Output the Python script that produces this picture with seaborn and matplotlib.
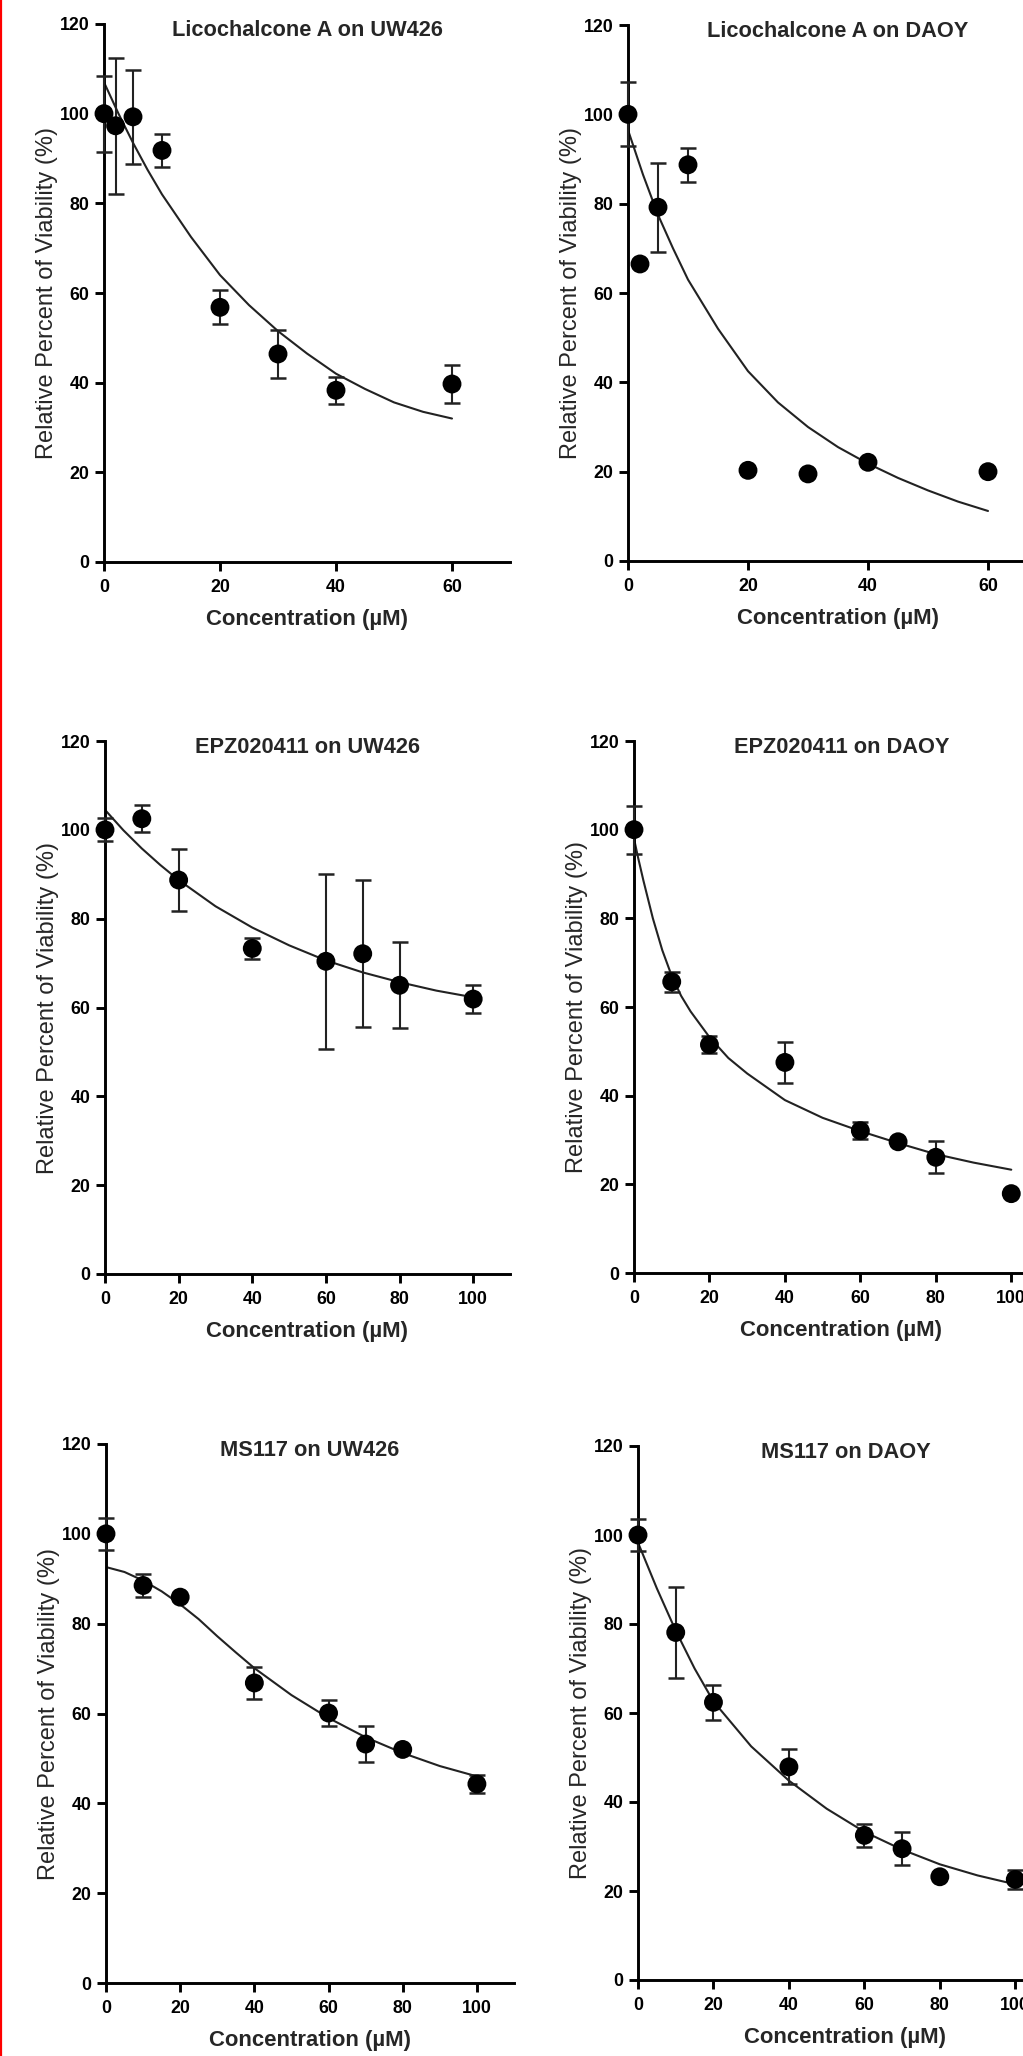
import numpy as np
import pandas as pd
import matplotlib
matplotlib.use("Agg")
import matplotlib.pyplot as plt
from matplotlib.lines import Line2D
import seaborn as sns


# Licochalcone A on UW426
lico_uw_conc = [0, 2, 5, 10, 20, 30, 40, 60]
lico_uw_mean = [100, 97.3, 99.3, 91.8, 56.8, 46.4, 38.3, 39.7]
lico_uw_err = [8.5, 15.2, 10.5, 3.7, 3.8, 5.4, 3.0, 4.3]
lico_uw_fit_x = [0, 2.5, 5, 7.5, 10, 15, 20, 25, 30, 35, 40, 45, 50, 55, 60]
lico_uw_fit_y = [107, 100, 93.5, 87.5, 82, 72.5, 64, 57.3, 51.5, 46.5, 42, 38.6, 35.6, 33.5, 32]

# Licochalcone A on DAOY
lico_da_conc = [0, 2, 5, 10, 20, 30, 40, 60]
lico_da_mean = [100, 66.5, 79.2, 88.7, 20.3, 19.5, 22.1, 20.0]
lico_da_err = [7.2, 0, 10.0, 3.8, 0, 0, 0, 0]
lico_da_fit_x = [0, 2.5, 5, 7.5, 10, 15, 20, 25, 30, 35, 40, 45, 50, 55, 60]
lico_da_fit_y = [96.5, 86.5, 77.5, 70, 63, 52, 42.5, 35.5, 30, 25.5, 21.8, 18.6, 15.8, 13.3, 11.2]

# EPZ020411 on UW426
epz_uw_conc = [0, 10, 20, 40, 60, 70, 80, 100]
epz_uw_mean = [100, 102.5, 88.7, 73.3, 70.4, 72.1, 65.0, 61.9]
epz_uw_err = [2.6, 3.0, 7.0, 2.4, 19.7, 16.6, 9.7, 3.2]
epz_uw_fit_x = [0, 5, 10, 15, 20, 30, 40, 50, 60, 70, 80, 90, 100]
epz_uw_fit_y = [104.5, 99.9, 95.8, 92.1, 88.7, 82.8, 78, 74, 70.6, 67.9, 65.7, 63.8, 62.3]

# EPZ020411 on DAOY
epz_da_conc = [0, 10, 20, 40, 60, 70, 80, 100]
epz_da_mean = [100, 65.7, 51.5, 47.5, 32.1, 29.6, 26.1, 17.9]
epz_da_err = [5.4, 2.3, 1.9, 4.6, 1.9, 0, 3.6, 0]
epz_da_fit_x = [0, 1, 2.5, 5, 7.5, 10, 12.5, 15, 20, 25, 30, 40, 50, 60, 70, 80, 90, 100]
epz_da_fit_y = [98, 94, 88.5, 80, 72.8, 67, 62.5, 59, 53.2, 48.5, 45, 39, 35, 32, 29.3, 26.8, 24.9, 23.3]

# MS117 on UW426
ms_uw_conc = [0, 10, 20, 40, 60, 70, 80, 100]
ms_uw_mean = [100, 88.5, 85.9, 66.8, 60.1, 53.2, 52.0, 44.3]
ms_uw_err = [3.6, 2.6, 0, 3.5, 2.9, 4.0, 0, 2.0]
ms_uw_fit_x = [0, 5, 10, 15, 20, 25, 30, 35, 40, 50, 60, 70, 80, 90, 100]
ms_uw_fit_y = [92.6, 91.5, 89.6, 87.2, 84.3, 81, 77.2, 73.6, 70.1, 64.1, 59, 54.7, 51.2, 48.3, 46.0]

# MS117 on DAOY
ms_da_conc = [0, 10, 20, 40, 60, 70, 80, 100]
ms_da_mean = [100, 78.1, 62.4, 47.9, 32.5, 29.5, 23.2, 22.6]
ms_da_err = [3.5, 10.2, 4.0, 3.9, 2.5, 3.7, 0, 2.2]
ms_da_fit_x = [0, 5, 10, 15, 20, 30, 40, 50, 60, 70, 80, 90, 100]
ms_da_fit_y = [98.3, 88, 78.5, 70, 62.6, 52.5, 44.8, 38.5, 33.3, 29.3, 26, 23.5, 21.5]

titles = ["Licochalcone A on UW426", "Licochalcone A on DAOY",
          "EPZ020411 on UW426", "EPZ020411 on DAOY",
          "MS117 on UW426", "MS117 on DAOY"]
y_ticks = [0, 20, 40, 60, 80, 100, 120]
x_ticks_short = [0, 20, 40, 60]
x_ticks_long = [0, 20, 40, 60, 80, 100]

W, H = 1023, 2056
FONT = "Liberation Sans"
LINE = "#222222"


def make_panel(fig, rect, conc, mean, err, fit_x, fit_y, title, xmax, xticks):
    """
    One dose-response panel, rect given in pixels (left, top, right, bottom)
    """
    l, t, r, b = rect
    w, h = r - l, b - t
    ax = fig.add_axes([l / W, 1 - b / H, w / W, h / H])

    sns.lineplot(x=fit_x, y=fit_y, ax=ax, color=LINE, linewidth=1.5, estimator=None, zorder=2)
    ax.errorbar(conc, mean, yerr=err, fmt="none", ecolor=LINE, elinewidth=1.5,
                capsize=6, capthick=1.8, zorder=3, clip_on=False)
    sns.scatterplot(x=conc, y=mean, ax=ax, marker="o", s=185, color="black",
                    edgecolor="none", zorder=4, clip_on=False)

    ax.set_xlim(0, xmax)
    ax.set_ylim(0, 120)
    ax.set_xticks(xticks)
    ax.set_yticks(y_ticks)
    sns.despine(ax=ax)
    for s in ["left", "bottom"]:
        ax.spines[s].set_linewidth(2.1)
        ax.spines[s].set_color("black")
    ax.tick_params(direction="out", length=6.5, width=2.1, color="black",
                   labelsize=12.8, pad=4, labelcolor="black")
    ax.tick_params(axis="x", pad=6)
    for lab in ax.get_xticklabels() + ax.get_yticklabels():
        lab.set_fontweight("bold")
        lab.set_family(FONT)

    ax.set_title(title, fontsize=15.7, fontweight="bold", family=FONT,
                 y=1 - 12 / h, pad=0)
    ax.set_xlabel("Concentration (µM)", fontsize=15.9, fontweight="bold", family=FONT)
    ax.set_ylabel("Relative Percent of Viability (%)", fontsize=17, family=FONT)
    ax.xaxis.set_label_coords(0.5, -47 / h)
    ax.yaxis.set_label_coords(-46 / w, 0.5)
    ax.grid(False)
    ax.set_facecolor("none")
    return ax


if __name__ == "__main__":
    sns.set_theme(style="ticks")
    plt.rcParams["font.family"] = [FONT, "DejaVu Sans"]

    fig = plt.figure(figsize=(W / 100, H / 100), dpi=100, facecolor="white")

    make_panel(fig, (104, 24, 510, 562), lico_uw_conc, lico_uw_mean, lico_uw_err,
               lico_uw_fit_x, lico_uw_fit_y, titles[0], 70, x_ticks_short)
    make_panel(fig, (628, 25, 1048, 561), lico_da_conc, lico_da_mean, lico_da_err,
               lico_da_fit_x, lico_da_fit_y, titles[1], 70, x_ticks_short)
    make_panel(fig, (105, 741, 510, 1274), epz_uw_conc, epz_uw_mean, epz_uw_err,
               epz_uw_fit_x, epz_uw_fit_y, titles[2], 110, x_ticks_long)
    make_panel(fig, (634, 741, 1049, 1273), epz_da_conc, epz_da_mean, epz_da_err,
               epz_da_fit_x, epz_da_fit_y, titles[3], 110, x_ticks_long)
    make_panel(fig, (106, 1444, 514, 1983), ms_uw_conc, ms_uw_mean, ms_uw_err,
               ms_uw_fit_x, ms_uw_fit_y, titles[4], 110, x_ticks_long)
    make_panel(fig, (638, 1446, 1053, 1980), ms_da_conc, ms_da_mean, ms_da_err,
               ms_da_fit_x, ms_da_fit_y, titles[5], 110, x_ticks_long)

    # red border on the left edge
    fig.add_artist(Line2D([1 / W, 1 / W], [0, 1], color="red", linewidth=1.6,
                          transform=fig.transFigure))

    plt.savefig("out.png", dpi=100, facecolor="white")
    plt.close()
